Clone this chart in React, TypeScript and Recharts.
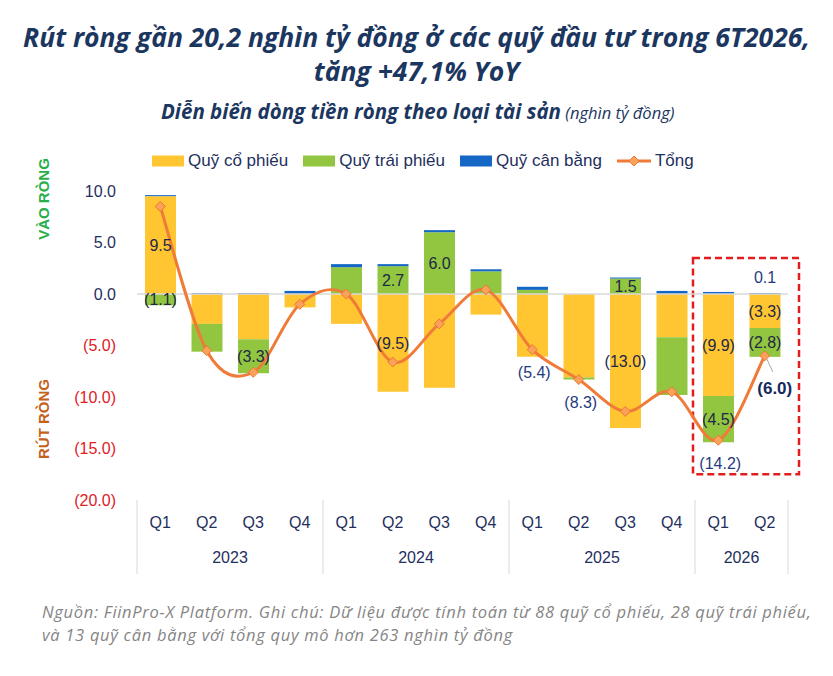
import React from "react";
import {
  ComposedChart,
  Bar,
  Line,
  XAxis,
  YAxis,
  ReferenceLine,
  ReferenceArea,
  LabelList,
} from "recharts";

// Net flows by fund type, thousand billion VND per quarter
const quarters = ["Q1", "Q2", "Q3", "Q4", "Q1", "Q2", "Q3", "Q4", "Q1", "Q2", "Q3", "Q4", "Q1", "Q2"];
const years = ["2023", "2023", "2023", "2023", "2024", "2024", "2024", "2024", "2025", "2025", "2025", "2025", "2026", "2026"];
const equityFunds = [9.5, -2.9, -4.4, -1.3, -2.9, -9.5, -9.1, -2.0, -6.1, -8.1, -13.0, -4.2, -9.9, -3.3];
const bondFunds = [-1.1, -2.7, -3.3, 0.0, 2.6, 2.7, 6.0, 2.2, 0.4, -0.2, 1.5, -5.6, -4.5, -2.8];
const balancedFunds = [0.1, 0.1, 0.1, 0.3, 0.3, 0.2, 0.2, 0.2, 0.3, 0.0, 0.1, 0.3, 0.2, 0.1];
const netTotal = [8.5, -5.5, -7.6, -1.0, 0.0, -6.6, -2.9, 0.4, -5.4, -8.3, -11.4, -9.5, -14.2, -6.0];
const yTicks = [-20, -15, -10, -5, 0, 5, 10];

// Which points carry a value label
const equityLabelAt = [0, 5, 10, 12, 13];
const bondLabelAt = [0, 2, 5, 6, 10, 12, 13];
const balancedLabelAt = [13];
const totalLabelAt = [8, 9, 12, 13];
const highlightFrom = "2026-Q1";
const highlightTo = "2026-Q2";

const data = quarters.map((q, i) => ({
  period: `${years[i]}-${q}`,
  q,
  year: years[i],
  equity: equityFunds[i],
  bond: bondFunds[i],
  balanced: balancedFunds[i],
  total: netTotal[i],
}));

const W = 833;
const H = 676;
const MARGIN = { top: 191, right: 45, bottom: 96, left: 67 };
const Y_AXIS_W = 70;
const X_AXIS_H = 80;
const PLOT_LEFT = MARGIN.left + Y_AXIS_W;
const PLOT_W = W - PLOT_LEFT - MARGIN.right;
const BAND = PLOT_W / data.length;

const C_EQUITY = "#FFC632";
const C_BOND = "#92C640";
const C_BALANCED = "#1467C4";
const C_TOTAL = "#F07B38";
const C_NAVY = "#1F2F5E";
const C_GRID = "#D9D9D9";
const FONT = "'Liberation Sans', Arial, sans-serif";
const TITLE_FONT = "'Open Sans', 'Noto Sans', sans-serif";

const fmt = (v: number) => (v < 0 ? `(${Math.abs(v).toFixed(1)})` : v.toFixed(1));

// category index of a bar from its horizontal centre
const bandIndex = (x: number, width: number) => Math.round((x + width / 2 - PLOT_LEFT) / BAND - 0.5);

// Smooth line through every point (cardinal spline, tension 0)
function smoothCurve(context: any) {
  let xs: number[] = [];
  let ys: number[] = [];
  return {
    areaStart() {},
    areaEnd() {},
    lineStart() {
      xs = [];
      ys = [];
    },
    lineEnd() {
      const n = xs.length;
      if (!n) return;
      context.moveTo(xs[0], ys[0]);
      for (let i = 0; i < n - 1; i++) {
        const p = Math.max(i - 1, 0);
        const q = Math.min(i + 2, n - 1);
        const c1x = xs[i] + (xs[i + 1] - xs[p]) / 6;
        const c1y = ys[i] + (ys[i + 1] - ys[p]) / 6;
        const c2x = xs[i + 1] - (xs[q] - xs[i]) / 6;
        const c2y = ys[i + 1] - (ys[q] - ys[i]) / 6;
        context.bezierCurveTo(c1x, c1y, c2x, c2y, xs[i + 1], ys[i + 1]);
      }
    },
    point(x: number, y: number) {
      xs.push(+x);
      ys.push(+y);
    },
  };
}

const YTick = (props: any) => {
  const { x, y, payload } = props;
  const v = payload.value as number;
  return (
    <text x={x} y={y} dy="0.35em" textAnchor="end" fontFamily={FONT} fontSize={16} fill={v < 0 ? "#E0201F" : C_NAVY}>
      {fmt(v)}
    </text>
  );
};

const XTick = (props: any) => {
  const { x, y, index } = props;
  const i = index as number;
  const yr = years[i];
  const isFirst = i === 0 || years[i - 1] !== yr;
  const isLast = i === years.length - 1;
  const groupIdx = years.map((v, k) => (v === yr ? k : -1)).filter((k) => k >= 0);
  const mid = groupIdx[Math.floor((groupIdx.length - 1) / 2)];
  const showYear = i === mid;
  const yearX = groupIdx.length % 2 === 0 ? x + BAND / 2 : x;
  return (
    <g>
      <text x={x} y={y + 22} dy="0.35em" textAnchor="middle" fontFamily={FONT} fontSize={16} fill={C_NAVY}>
        {quarters[i]}
      </text>
      {showYear && (
        <text x={yearX} y={y + 57} dy="0.35em" textAnchor="middle" fontFamily={FONT} fontSize={16} fill={C_NAVY}>
          {yr}
        </text>
      )}
      {isFirst && <line x1={x - BAND / 2} x2={x - BAND / 2} y1={y} y2={y + 74} stroke={C_GRID} strokeWidth={1} />}
      {isLast && <line x1={x + BAND / 2} x2={x + BAND / 2} y1={y} y2={y + 74} stroke={C_GRID} strokeWidth={1} />}
    </g>
  );
};

const barLabel = (values: number[], shown: number[], color: string) => (props: any) => {
  const { x, y, width, height } = props;
  const index = bandIndex(x, width);
  if (!shown.includes(index)) return null;
  const v = values[index];
  return (
    <text x={x + width / 2} y={y + height / 2} dy="0.35em" textAnchor="middle" fontFamily={FONT} fontSize={16} fill={color}>
      {fmt(v)}
    </text>
  );
};

const balancedLabel = (props: any) => {
  const { x, y, width } = props;
  const index = bandIndex(x, width);
  if (!balancedLabelAt.includes(index)) return null;
  return (
    <text x={x + width / 2} y={y - 16} dy="0.35em" textAnchor="middle" fontFamily={FONT} fontSize={16} fill="#1F3A80">
      {fmt(balancedFunds[index])}
    </text>
  );
};

const totalLabel = (props: any) => {
  const { x, y, index } = props;
  if (!totalLabelAt.includes(index)) return null;
  const v = netTotal[index];
  const last = index === netTotal.length - 1;
  if (last) {
    return (
      <g>
        <line x1={x + 2} y1={y + 3} x2={x + 8} y2={y + 16} stroke="#A6A6A6" strokeWidth={1} />
        <text x={x + 10} y={y + 32} dy="0.35em" textAnchor="middle" fontFamily={FONT} fontSize={17} fontWeight="bold" fill="#13295E">
          {fmt(v)}
        </text>
      </g>
    );
  }
  return (
    <text x={x + 2} y={y + 23} dy="0.35em" textAnchor="middle" fontFamily={FONT} fontSize={16} fill="#1F3A80">
      {fmt(v)}
    </text>
  );
};

const Diamond = (props: any) => {
  const { cx, cy } = props;
  if (cx == null || cy == null) return null;
  const r = 5;
  return (
    <path
      d={`M${cx},${cy - r}L${cx + r},${cy}L${cx},${cy + r}L${cx - r},${cy}Z`}
      fill="#F9A25C"
      stroke="#EE7630"
      strokeWidth={1}
    />
  );
};

const HighlightBox = (props: any) => {
  const { x, y, width, height } = props;
  return (
    <rect
      x={x - 2}
      y={y}
      width={width + 13}
      height={height}
      fill="none"
      stroke="#E21D1D"
      strokeWidth={2.5}
      strokeDasharray="7 4"
    />
  );
};

const legendItems = [
  { name: "Quỹ cổ phiếu", color: C_EQUITY, kind: "rect" },
  { name: "Quỹ trái phiếu", color: C_BOND, kind: "rect" },
  { name: "Quỹ cân bằng", color: C_BALANCED, kind: "rect" },
  { name: "Tổng", color: C_TOTAL, kind: "line" },
];

const ChartLegend = () => (
  <div
    style={{
      position: "absolute",
      left: 152,
      top: 151,
      display: "flex",
      alignItems: "center",
      gap: 15,
      fontFamily: FONT,
      fontSize: 17,
      color: C_NAVY,
      whiteSpace: "nowrap",
    }}
  >
    {legendItems.map((it) => (
      <div key={it.name} style={{ display: "flex", alignItems: "center", gap: 4 }}>
        {it.kind === "rect" ? (
          <svg width={32} height={12}>
            <rect x={0} y={0.5} width={32} height={11} fill={it.color} />
          </svg>
        ) : (
          <svg width={34} height={12}>
            <line x1={0} y1={6} x2={34} y2={6} stroke={it.color} strokeWidth={3} />
            <path d="M17,1L22,6L17,11L12,6Z" fill="#F9A25C" stroke="#EE7630" strokeWidth={1} />
          </svg>
        )}
        <span>{it.name}</span>
      </div>
    ))}
  </div>
);

export default function App() {
  return (
    <div style={{ position: "relative", width: W, height: H, background: "#fff", overflow: "hidden" }}>
      <style>{`body{margin:0}`}</style>
      <div
        style={{
          position: "absolute",
          left: 0,
          top: 20,
          width: W,
          textAlign: "center",
          fontFamily: TITLE_FONT,
          fontWeight: 700,
          fontStyle: "italic",
          fontSize: 26.5,
          lineHeight: "34px",
          color: "#1B365F",
          whiteSpace: "nowrap",
        }}
      >
        Rút ròng gần 20,2 nghìn tỷ đồng ở các quỹ đầu tư trong 6T2026,
        <br />
        tăng +47,1% YoY
      </div>
      <div
        style={{
          position: "absolute",
          left: 161,
          top: 97,
          whiteSpace: "nowrap",
          fontFamily: TITLE_FONT,
          fontStyle: "italic",
          color: "#1B365F",
        }}
      >
        <span style={{ fontWeight: 700, fontSize: 20.5 }}>Diễn biến dòng tiền ròng theo loại tài sản</span>
        <span style={{ fontSize: 16.5 }}> (nghìn tỷ đồng)</span>
      </div>

      <ChartLegend />

      <div
        style={{
          position: "absolute",
          left: 43,
          top: 199,
          transform: "translate(-50%,-50%) rotate(-90deg)",
          whiteSpace: "nowrap",
          fontFamily: FONT,
          fontWeight: 700,
          fontSize: 15,
          color: "#27AE4A",
        }}
      >
        VÀO RÒNG
      </div>
      <div
        style={{
          position: "absolute",
          left: 43,
          top: 419,
          transform: "translate(-50%,-50%) rotate(-90deg)",
          whiteSpace: "nowrap",
          fontFamily: FONT,
          fontWeight: 700,
          fontSize: 15,
          color: "#C4621A",
        }}
      >
        RÚT RÒNG
      </div>

      <div style={{ position: "absolute", left: 0, top: 0 }}>
        <ComposedChart width={W} height={H} data={data} margin={MARGIN} stackOffset="sign">
          <XAxis
            dataKey="period"
            type="category"
            height={X_AXIS_H}
            axisLine={false}
            tickLine={false}
            tickSize={0}
            tickMargin={0}
            interval={0}
            tick={<XTick />}
          />
          <YAxis
            type="number"
            domain={[-20, 10]}
            ticks={yTicks}
            width={Y_AXIS_W}
            axisLine={false}
            tickLine={false}
            tickSize={0}
            tickMargin={21}
            interval={0}
            tick={<YTick />}
          />
          <ReferenceLine y={0} stroke={C_GRID} strokeWidth={1.5} />
          <Bar dataKey="equity" stackId="f" fill={C_EQUITY} barSize={31} isAnimationActive={false}>
            <LabelList dataKey="equity" content={barLabel(equityFunds, equityLabelAt, "#1E2847")} />
          </Bar>
          <Bar dataKey="bond" stackId="f" fill={C_BOND} barSize={31} isAnimationActive={false}>
            <LabelList dataKey="bond" content={barLabel(bondFunds, bondLabelAt, "#1E2847")} />
          </Bar>
          <Bar dataKey="balanced" stackId="f" fill={C_BALANCED} barSize={31} isAnimationActive={false}>
            <LabelList dataKey="balanced" content={balancedLabel} />
          </Bar>
          <Line
            dataKey="total"
            type={smoothCurve as any}
            stroke={C_TOTAL}
            strokeWidth={3}
            dot={<Diamond />}
            activeDot={false}
            isAnimationActive={false}
          >
            <LabelList dataKey="total" content={totalLabel} />
          </Line>
          <ReferenceArea
            x1={highlightFrom}
            x2={highlightTo}
            y1={-17.5}
            y2={3.5}
            ifOverflow="visible"
            shape={<HighlightBox />}
          />
        </ComposedChart>
      </div>

      <div
        style={{
          position: "absolute",
          left: 42,
          top: 600,
          whiteSpace: "nowrap",
          fontFamily: TITLE_FONT,
          fontStyle: "italic",
          fontSize: 16.5,
          letterSpacing: 0.7,
          lineHeight: "23px",
          color: "#858585",
        }}
      >
        Nguồn: FiinPro-X Platform. Ghi chú: Dữ liệu được tính toán từ 88 quỹ cổ phiếu, 28 quỹ trái phiếu,
        <br />
        và 13 quỹ cân bằng với tổng quy mô hơn 263 nghìn tỷ đồng
      </div>
    </div>
  );
}
